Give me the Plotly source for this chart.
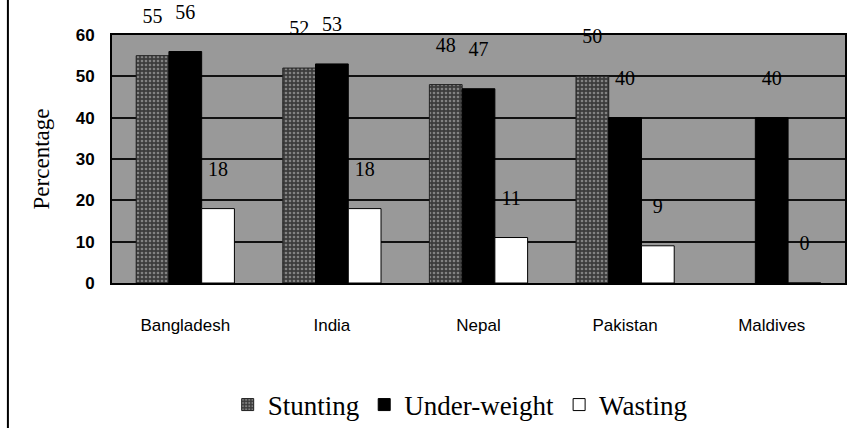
import plotly.graph_objects as go

countries = ["Bangladesh", "India", "Nepal", "Pakistan", "Maldives"]
stunting = [55, 52, 48, 50, None]
underweight = [56, 53, 47, 40, 40]
wasting = [18, 18, 11, 9, 0]
y_ticks = [0, 10, 20, 30, 40, 50, 60]

def labels(vals):
    # value label with an empty second line so it sits higher above the bar
    return ["" if v is None else f"{v}<br>\u00a0" for v in vals]

serif = "Liberation Serif"
sans = "Liberation Sans"

fig = go.Figure()
fig.add_trace(go.Bar(
    name="Stunting", x=countries, y=stunting, text=labels(stunting),
    marker=dict(color="#3c3c3c", line=dict(color="#222222", width=1),
                pattern=dict(shape=".", fgcolor="#c8c8c8", bgcolor="#3c3c3c", size=4, solidity=0.35)),
))
fig.add_trace(go.Bar(
    name="Under-weight", x=countries, y=underweight, text=labels(underweight),
    marker=dict(color="#000000", line=dict(color="#000000", width=1)),
))
fig.add_trace(go.Bar(
    name="Wasting", x=countries, y=wasting, text=labels(wasting),
    marker=dict(color="#ffffff", line=dict(color="#000000", width=1)),
))
fig.update_traces(textposition="outside", cliponaxis=False,
                  textfont=dict(family=serif, size=20, color="#000000"))

fig.update_layout(
    width=852, height=428,
    margin=dict(l=112, r=7, t=35, b=145, autoexpand=False),
    paper_bgcolor="#ffffff",
    plot_bgcolor="#999999",
    barmode="group", bargap=0.33, bargroupgap=0,
    uniformtext=dict(minsize=20, mode="show"),
    showlegend=True,
    legend=dict(orientation="h", x=0.475, xanchor="center", y=-0.492, yanchor="middle",
                font=dict(family=serif, size=27, color="#000000"),
                itemwidth=30, tracegroupgap=0, bgcolor="rgba(0,0,0,0)"),
    xaxis=dict(showline=True, linecolor="#000000", linewidth=2, mirror=True,
               tickfont=dict(family=sans, size=17, color="#000000"),
               ticklabelstandoff=26, showgrid=False),
    yaxis=dict(range=[0, 60], tickvals=y_ticks, showline=True, linecolor="#000000",
               linewidth=2, mirror=True, showgrid=True, gridcolor="#111111", gridwidth=2,
               tickfont=dict(family=sans, size=17, color="#000000", weight="bold"),
               ticklabelstandoff=12, zeroline=False,
               title=dict(text="Percentage", font=dict(family=serif, size=23, color="#000000"),
                          standoff=20)),
)
fig.add_shape(type="line", xref="paper", yref="paper", x0=-0.142, x1=-0.142, y0=-0.585, y1=1.141,
              line=dict(color="#000000", width=2))

fig.write_html("out.html", config={"displayModeBar": False},
               post_script="document.body.style.margin='0';document.body.style.overflow='hidden';")
